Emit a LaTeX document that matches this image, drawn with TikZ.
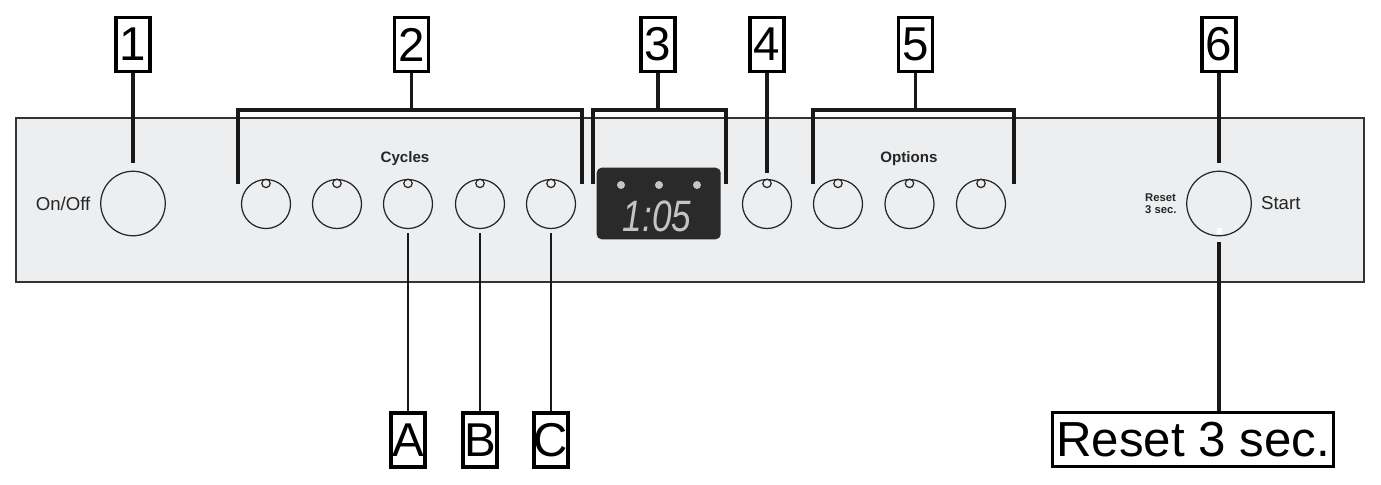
\documentclass[tikz,border=0pt]{standalone}
\usepackage{fontspec}
\setmainfont{Liberation Sans}
\usetikzlibrary{positioning}
\definecolor{panelgray}{RGB}{237,238,240}
\definecolor{lcdblack}{RGB}{43,42,42}
\definecolor{lcdgray}{RGB}{196,196,196}

\begin{document}
\begin{tikzpicture}[x=0.01cm, y=-0.01cm,
    numbox/.style={rectangle, draw=black, line width=0.95pt, fill=white, minimum width=0.34cm,
                   minimum height=0.54cm, inner sep=0pt, font=\fontsize{13.5}{13.5}\selectfont},
    knob/.style={circle, draw=black!85, line width=0.35pt, minimum size=0.49cm, inner sep=0pt},
    bigknob/.style={knob, minimum size=0.645cm},
    lead/.style={line width=0.95pt, black!90},
    thinlead/.style={line width=0.85pt, black!90},
    paneltext/.style={inner sep=0pt, font=\fontsize{5.3}{6}\selectfont, text=black!85},
    headtext/.style={inner sep=0pt, font=\fontsize{4.3}{5}\selectfont\bfseries, text=black!85}
]
\useasboundingbox (0,0) rectangle (1381,484);
\draw[fill=panelgray, draw=black!80, line width=0.35pt] (16,118) rectangle (1364,282);
\coordinate (bar) at (0,110);

% on/off
\node[bigknob] (onoff) at (133,203.5) {};
\node[paneltext, left=0.09cm of onoff] (onofftxt) {On/Off};
\node[numbox] (n1) at (133,44.5) {1};
\draw[lead, shorten >=0.08cm] (n1) -- (onoff);

% cycles
\foreach \i/\x in {1/266, 2/337, 3/408, 4/480, 5/551}{
  \node[knob] (cy\i) at (\x,204) {};
  \draw[black!85, line width=0.35pt] (cy\i.north) ++(0,4.5) circle[radius=0.042cm];
}
\node[headtext] (cycles) at (405,159) {Cycles};
\node[numbox] (n2) at (411.5,44.5) {2};
\coordinate (b2l) at (238,184);
\coordinate (b2r) at (582,184);
\draw[lead] (b2l) |- (b2r |- bar) -- (b2r);
\draw[lead] (n2) -- (n2 |- bar);

% display
\node[rectangle, rounded corners=0.05cm, fill=lcdblack, minimum width=1.24cm,
      minimum height=0.715cm] (lcd) at (658.7,203.5) {};
\foreach \x in {621, 659, 697}
  \fill[lcdgray] (\x,185) circle[radius=0.04cm];
\node[text=lcdgray, font=\fontsize{12.5}{12.5}\selectfont\itshape] (time) at (657,216)
     {\scalebox{0.8}[1]{1:05}};
\node[numbox] (n3) at (658,44.5) {3};
\coordinate (b3l) at (593,184);
\coordinate (b3r) at (726,184);
\draw[lead] (b3l) |- (b3r |- bar) -- (b3r);
\draw[lead] (n3) -- (n3 |- bar);

% single button
\node[knob] (k4) at (767,204) {};
\draw[black!85, line width=0.35pt] (k4.north) ++(0,4.5) circle[radius=0.042cm];
\node[numbox] (n4) at (767,44.5) {4};
\draw[lead, shorten >=0.06cm] (n4) -- (k4);

% options
\foreach \i/\x in {1/838, 2/909.5, 3/981}{
  \node[knob] (op\i) at (\x,204) {};
  \draw[black!85, line width=0.35pt] (op\i.north) ++(0,4.5) circle[radius=0.042cm];
}
\node[headtext] (options) at (909,159) {Options};
\node[numbox] (n5) at (915.5,44.5) {5};
\coordinate (b5l) at (813,184);
\coordinate (b5r) at (1014,184);
\draw[lead] (b5l) |- (b5r |- bar) -- (b5r);
\draw[lead] (n5) -- (n5 |- bar);

% start
\node[bigknob] (start) at (1219,203.5) {};
\node[fill=white, minimum width=0.05cm, minimum height=0.06cm, inner sep=0pt,
      above=0.02cm of start.south] (mark) {};
\node[headtext, font=\fontsize{3.2}{3.5}\selectfont\bfseries, align=left,
      left=0.09cm of start] (resettxt) {Reset\\3 sec.};
\node[paneltext, right=0.085cm of start] (starttxt) {Start};
\node[numbox] (n6) at (1219,44.5) {6};
\draw[lead, shorten >=0.08cm] (n6) -- (start);
\node[numbox, minimum width=2.81cm, font=\fontsize{14}{14}\selectfont] (reset) at (1193,439.5)
     {Reset 3 sec.};
\draw[lead, shorten <=0.06cm] (start) -- (start |- reset.north);

% cycle letters
\node[numbox] (la) at (408,440) {A};
\node[numbox] (lb) at (480,440) {B};
\node[numbox] (lc) at (551,440) {C};
\draw[thinlead, shorten <=0.04cm] (cy3) -- (la);
\draw[thinlead, shorten <=0.04cm] (cy4) -- (lb);
\draw[thinlead, shorten <=0.04cm] (cy5) -- (lc);
\end{tikzpicture}
\end{document}
